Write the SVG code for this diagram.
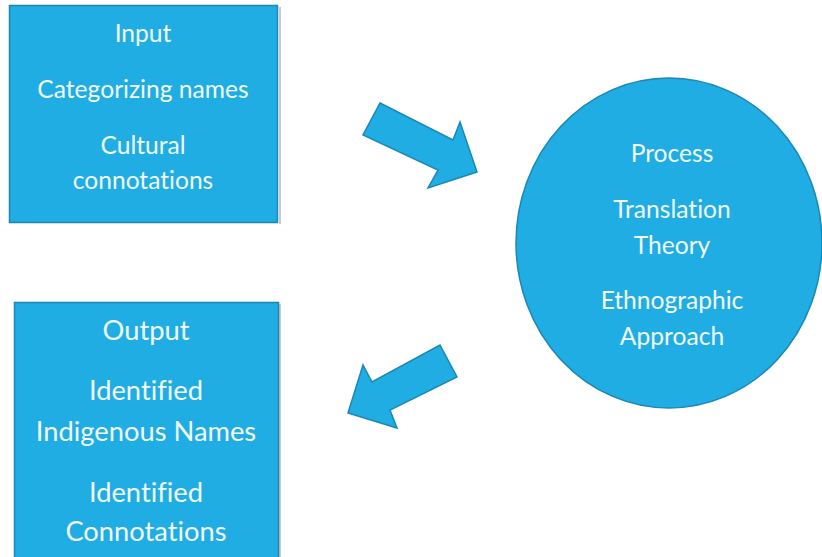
<svg xmlns="http://www.w3.org/2000/svg" width="822" height="557" viewBox="0 0 822 557">
<style>
.shape{fill:#1FADE3;stroke:#1B87B3;stroke-width:1.5}
.t{fill:#F2FAFD;font-family:Lato,"Open Sans","Liberation Sans",sans-serif;text-anchor:middle;font-variant-ligatures:none}
.s1{font-size:24.6px}
.s2{font-size:27.3px}
</style>
<rect width="822" height="557" fill="#ffffff"/>
<g id="input">
<rect x="279" y="7" width="2" height="217" fill="#c8c8c8"/>
<rect class="shape" x="9.5" y="5.5" width="268" height="217"/>
<text class="t s1" x="143" y="42">Input</text>
<text class="t s1" x="143" y="98">Categorizing names</text>
<text class="t s1" x="143" y="154">Cultural</text>
<text class="t s1" x="143" y="189">connotations</text>
</g>
<g id="process">
<ellipse class="shape" cx="669" cy="243" rx="153" ry="165"/>
<text class="t s1" x="672" y="162">Process</text>
<text class="t s1" x="672" y="218">Translation</text>
<text class="t s1" x="672" y="254">Theory</text>
<text class="t s1" x="672" y="309">Ethnographic</text>
<text class="t s1" x="672" y="345">Approach</text>
</g>
<g id="output">
<rect x="279" y="304" width="2" height="253" fill="#c8c8c8"/>
<rect class="shape" x="14.5" y="302.5" width="264" height="260"/>
<text class="t s2" x="146" y="340">Output</text>
<text class="t s2" x="146" y="400">Identified</text>
<text class="t s2" x="146" y="441">Indigenous Names</text>
<text class="t s2" x="146" y="502">Identified</text>
<text class="t s2" x="146" y="541">Connotations</text>
</g>
<g id="connectors">
<polygon class="shape" points="380,103 453,140 460,122 477,172 428,188 438,170 363,135"/>
<polygon class="shape" points="440,345 457,377 390,410 397,428 348,413 363,365 372,382"/>
</g>
</svg>
